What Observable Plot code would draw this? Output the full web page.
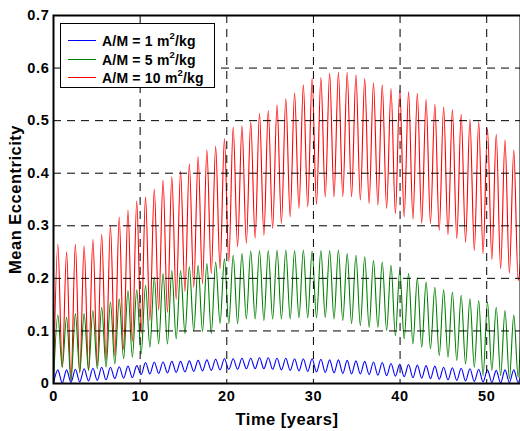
<!DOCTYPE html>
<html>
<head>
<meta charset="utf-8">
<script src="https://cdn.jsdelivr.net/npm/d3@7"></script>
<script src="https://cdn.jsdelivr.net/npm/@observablehq/plot@0.6"></script>
<style>
  body { margin: 0; background: #fff; }
  #wrap { position: relative; width: 520px; height: 431px; font-family: "Liberation Sans", Arial, sans-serif; }
  #legend { position: absolute; left: 60px; top: 23px; width: 153px; height: 63px; border: 1.5px solid #000; background: #fff; }
  .row { position: absolute; left: 0; height: 18px; width: 100%; }
  .sw { position: absolute; left: 7px; top: 8px; width: 28px; height: 0; border-top: 1.5px solid; }
  .lab { position: absolute; left: 41px; top: 0; font-weight: bold; font-size: 14px; letter-spacing: 0.2px; line-height: 18px; color: #000; white-space: nowrap; }
  .lab sup { font-size: 9.5px; line-height: 0; position: relative; top: -1px; }
  g[aria-label="x-axis tick label"], g[aria-label="y-axis tick label"] { font-size: 14.5px; letter-spacing: 0.7px; }
  g[aria-label="x-axis label"], g[aria-label="y-axis label"] { font-size: 16.5px; letter-spacing: 0.5px; }
</style>
</head>
<body>
<div id="wrap"></div>
<script>
// ---- data ----
// Oscillations: all three series share the same ~1 year cycle.
const firstPeakTime = 0.5;     // years
const cycleLength = 1.012;     // years per oscillation
const xTicks = [0, 10, 20, 30, 40, 50];
const yTicks = [0, 0.1, 0.2, 0.3, 0.4, 0.5, 0.6, 0.7];
const seriesNames = ["A/M = 1 m²/kg", "A/M = 5 m²/kg", "A/M = 10 m²/kg"];
const seriesColors = ["#0000ff", "#008000", "#ff0000"];

const redStart = 0.0, redEnd = 0.23;
const redPeaks = [0.265,0.25,0.265,0.262,0.274,0.284,0.30,0.316,0.33,0.347,
  0.355,0.37,0.387,0.393,0.404,0.418,0.431,0.444,0.451,0.466,
  0.488,0.49,0.498,0.514,0.519,0.53,0.542,0.553,0.568,0.58,
  0.582,0.59,0.592,0.592,0.587,0.58,0.572,0.568,0.561,0.558,
  0.555,0.552,0.54,0.531,0.526,0.521,0.512,0.502,0.498,0.485,
  0.474,0.463,0.444];
const redTroughs = [0.031,0.005,0.02,0.025,0.034,0.044,0.053,0.065,0.08,0.095,
  0.12,0.14,0.135,0.16,0.175,0.183,0.19,0.209,0.218,0.232,
  0.26,0.267,0.276,0.282,0.295,0.304,0.317,0.333,0.336,0.341,
  0.355,0.355,0.355,0.355,0.349,0.342,0.339,0.333,0.323,0.317,
  0.313,0.305,0.304,0.291,0.283,0.276,0.269,0.253,0.247,0.236,
  0.218,0.21,0.196];

const greenStart = 0.0, greenEnd = 0.08;
const greenPeaks = [0.13,0.126,0.133,0.133,0.139,0.145,0.155,0.161,0.177,0.178,
  0.187,0.202,0.209,0.215,0.215,0.222,0.225,0.228,0.231,0.237,
  0.244,0.247,0.252,0.253,0.253,0.254,0.254,0.253,0.254,0.252,
  0.253,0.253,0.254,0.247,0.244,0.241,0.234,0.231,0.225,0.216,
  0.209,0.201,0.193,0.183,0.178,0.174,0.168,0.161,0.158,0.155,
  0.145,0.139,0.13];
const greenTroughs = [0.031,0.005,0.022,0.025,0.028,0.031,0.037,0.047,0.05,0.056,
  0.069,0.075,0.075,0.085,0.095,0.10,0.099,0.095,0.114,0.114,
  0.114,0.123,0.123,0.12,0.123,0.123,0.123,0.125,0.125,0.125,
  0.126,0.123,0.12,0.114,0.11,0.107,0.107,0.101,0.091,0.085,
  0.075,0.069,0.066,0.053,0.05,0.044,0.037,0.031,0.015,0.025,
  0.015,0.009,0.012];

const blueStart = 0.0, blueEnd = 0.012;
const bluePeaks = [0.026,0.026,0.027,0.028,0.029,0.031,0.031,0.032,0.033,0.034,
  0.040,0.041,0.041,0.042,0.042,0.043,0.044,0.045,0.046,0.047,
  0.047,0.048,0.048,0.049,0.049,0.048,0.048,0.047,0.047,0.047,
  0.046,0.045,0.045,0.044,0.043,0.042,0.041,0.040,0.038,0.037,
  0.036,0.035,0.034,0.033,0.031,0.030,0.029,0.028,0.027,0.026,
  0.025,0.026,0.026];
const blueTroughs = [0.001,0.002,0.003,0.005,0.006,0.007,0.009,0.010,0.011,0.017,
  0.018,0.019,0.020,0.021,0.022,0.023,0.024,0.025,0.026,0.027,
  0.027,0.028,0.028,0.028,0.027,0.026,0.025,0.024,0.023,0.022,
  0.021,0.020,0.019,0.018,0.018,0.017,0.016,0.015,0.014,0.013,
  0.011,0.010,0.009,0.008,0.007,0.006,0.005,0.004,0.003,0.002,
  0.001,0.002,0.002];

const xMax = 53.9;

// ---- build point tables ----
function build(name, start, peaks, troughs, end) {
  const pts = [{name, t: 0, v: start}];
  peaks.forEach((p, i) => {
    pts.push({name, t: firstPeakTime + i * cycleLength, v: p});
    if (i < troughs.length) pts.push({name, t: firstPeakTime + (i + 0.5) * cycleLength, v: troughs[i]});
  });
  pts.push({name, t: xMax, v: end});
  return pts;
}
const red = build(seriesNames[2], redStart, redPeaks, redTroughs, redEnd);
const green = build(seriesNames[1], greenStart, greenPeaks, greenTroughs, greenEnd);
const blue = build(seriesNames[0], blueStart, bluePeaks, blueTroughs, blueEnd);

const fmtY = d => d === 0 ? "0" : d3.format(".1f")(d);

const chart = Plot.plot({
  width: 520,
  height: 431,
  marginLeft: 53,
  marginRight: 0,
  marginTop: 15,
  marginBottom: 48,
  style: {fontFamily: "'Liberation Sans', Arial, sans-serif", fontSize: "14px", fontWeight: "bold", color: "#000", background: "#fff"},
  x: {domain: [0, xMax]},
  y: {domain: [0, 0.7]},
  marks: [
    Plot.line(red, {x: "t", y: "v", stroke: seriesColors[2], strokeWidth: 1.1, curve: "monotone-x"}),
    Plot.line(green, {x: "t", y: "v", stroke: seriesColors[1], strokeWidth: 1.1, curve: "monotone-x"}),
    Plot.line(blue, {x: "t", y: "v", stroke: seriesColors[0], strokeWidth: 1.1, curve: "monotone-x"}),
    Plot.gridX(xTicks.slice(1), {stroke: "#000", strokeOpacity: 1, strokeWidth: 1, strokeDasharray: "8,6"}),
    Plot.gridY(yTicks.slice(1, -1), {stroke: "#000", strokeOpacity: 1, strokeWidth: 1, strokeDasharray: "8,6"}),
    Plot.axisX(xTicks, {anchor: "bottom", tickSize: 0, tickPadding: 7, fontSize: 14, fontWeight: "bold",
      label: "Time [years]", labelAnchor: "center", labelOffset: 41, labelArrow: "none"}),
    Plot.axisY(yTicks, {anchor: "left", tickSize: 0, tickPadding: 4, tickFormat: fmtY, fontSize: 14, fontWeight: "bold",
      label: "Mean Eccentricity", labelAnchor: "center", labelOffset: 44, labelArrow: "none"}),
    Plot.frame({stroke: "#000", strokeWidth: 2})
  ]
});
const wrap = document.getElementById("wrap");
wrap.appendChild(chart);

// legend (overlaid inside the axes, like the original)
const legend = document.createElement("div");
legend.id = "legend";
const labelsHtml = ["A/M = 1 m<sup>2</sup>/kg", "A/M = 5 m<sup>2</sup>/kg", "A/M = 10 m<sup>2</sup>/kg"];
[0, 1, 2].forEach((k, i) => {
  const row = document.createElement("div");
  row.className = "row";
  row.style.top = (8 + i * 18.5) + "px";
  const sw = document.createElement("div");
  sw.className = "sw";
  sw.style.borderColor = seriesColors[k];
  const lab = document.createElement("div");
  lab.className = "lab";
  lab.innerHTML = labelsHtml[k];
  row.appendChild(sw);
  row.appendChild(lab);
  legend.appendChild(row);
});
wrap.appendChild(legend);
</script>
</body>
</html>
